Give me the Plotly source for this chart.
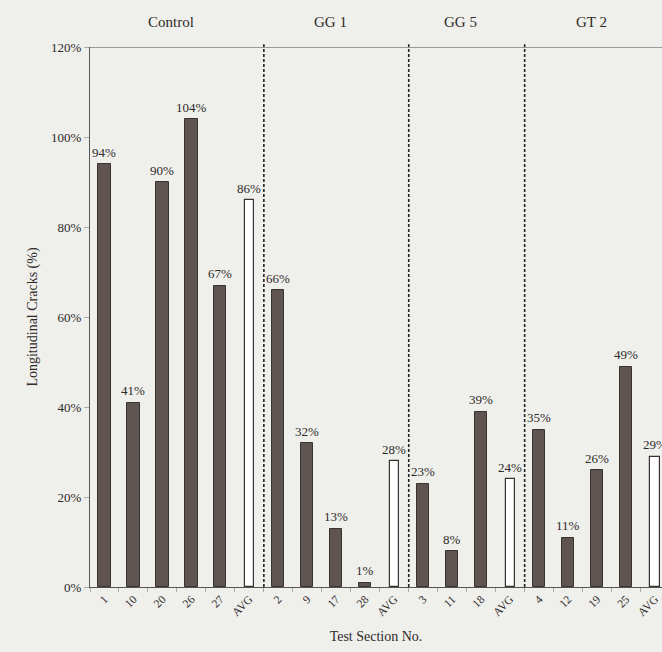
import plotly.graph_objects as go

# ---- data ----
group_names = ["Control", "GG 1", "GG 5", "GT 2"]
control_labels = ["1", "10", "20", "26", "27", "AVG"]
control_values = [94, 41, 90, 104, 67, 86]
gg1_labels = ["2", "9", "17", "28", "AVG"]
gg1_values = [66, 32, 13, 1, 28]
gg5_labels = ["3", "11", "18", "AVG"]
gg5_values = [23, 8, 39, 24]
gt2_labels = ["4", "12", "19", "25", "AVG"]
gt2_values = [35, 11, 26, 49, 29]
y_ticks = [0, 20, 40, 60, 80, 100, 120]

groups = [
    (control_labels, control_values),
    (gg1_labels, gg1_values),
    (gg5_labels, gg5_values),
    (gt2_labels, gt2_values),
]

serif = "Liberation Serif, Times New Roman, serif"
ink = "#2e2a28"

tick_text, all_vals, idx = [], [], []
group_bounds = []
i = 0
for labels, vals in groups:
    start = i
    for lab, v in zip(labels, vals):
        tick_text.append(lab)
        all_vals.append(v)
        idx.append(i)
        i += 1
    group_bounds.append((start, i - 1))

dark_x = [x for x, lab in zip(idx, tick_text) if lab != "AVG"]
dark_y = [v for v, lab in zip(all_vals, tick_text) if lab != "AVG"]
avg_x = [x for x, lab in zip(idx, tick_text) if lab == "AVG"]
avg_y = [v for v, lab in zip(all_vals, tick_text) if lab == "AVG"]

fig = go.Figure()
fig.add_trace(go.Bar(
    x=dark_x, y=dark_y, width=0.42,
    marker=dict(color="#5f5450", line=dict(color="#3a3230", width=1)),
    showlegend=False, hoverinfo="skip",
))
fig.add_trace(go.Bar(
    x=avg_x, y=avg_y, width=0.32,
    marker=dict(color="#ffffff", line=dict(color="#3a3230", width=1.2)),
    showlegend=False, hoverinfo="skip",
))

# value labels
for x, v in zip(idx, all_vals):
    fig.add_annotation(x=x, y=v, xref="x", yref="y", text=f"{v}%",
                       showarrow=False, yanchor="middle", yshift=12,
                       font=dict(family=serif, size=13, color=ink))

# dashed separators between groups
for (s, e) in group_bounds[:-1]:
    fig.add_shape(type="line", xref="x", yref="paper", x0=e + 0.5, x1=e + 0.5,
                  y0=0, y1=1.005, line=dict(color="#222", width=1.6, dash="3px,2px"))
# top frame line
fig.add_shape(type="line", xref="paper", yref="y", x0=0, x1=1, y0=120, y1=120,
              line=dict(color="#444", width=1.2))

# group titles
for name, (s, e) in zip(group_names, group_bounds):
    fig.add_annotation(x=(s + e) / 2 - 0.2, y=1.046, xref="x", yref="paper",
                       text=name, showarrow=False, yanchor="middle",
                       font=dict(family=serif, size=15, color=ink))

fig.update_layout(
    width=662, height=652,
    margin=dict(l=90, r=0, t=47, b=65),
    paper_bgcolor="#efefec", plot_bgcolor="#efefec",
    bargap=0, barmode="overlay",
    font=dict(family=serif, color=ink),
)
fig.update_xaxes(
    range=[-0.5, 19.24], tickvals=idx, ticktext=tick_text, tickangle=-45,
    tickfont=dict(family=serif, size=11.5, color=ink),
    showgrid=False, zeroline=False, showline=True, linecolor="#555", linewidth=1,
    ticks="",
    minor=dict(ticks="outside", ticklen=4, tick0=0.5, dtick=1, tickcolor="#aaa", showgrid=False),
    title=dict(text="Test Section No.", font=dict(family=serif, size=14, color=ink), standoff=14),
)
fig.update_yaxes(
    range=[0, 120], tickvals=y_ticks, ticktext=[f"{t}%" for t in y_ticks],
    tickfont=dict(family=serif, size=13, color=ink),
    showgrid=False, zeroline=False, showline=True, linecolor="#555", linewidth=1,
    ticks="outside", ticklen=5, tickcolor="#aaa",
    title=dict(text="Longitudinal Cracks (%)", font=dict(family=serif, size=14, color=ink), standoff=10),
)

fig.write_html("out.html", config={"displayModeBar": False},
               post_script="document.body.style.margin='0';document.body.style.overflow='hidden';")
